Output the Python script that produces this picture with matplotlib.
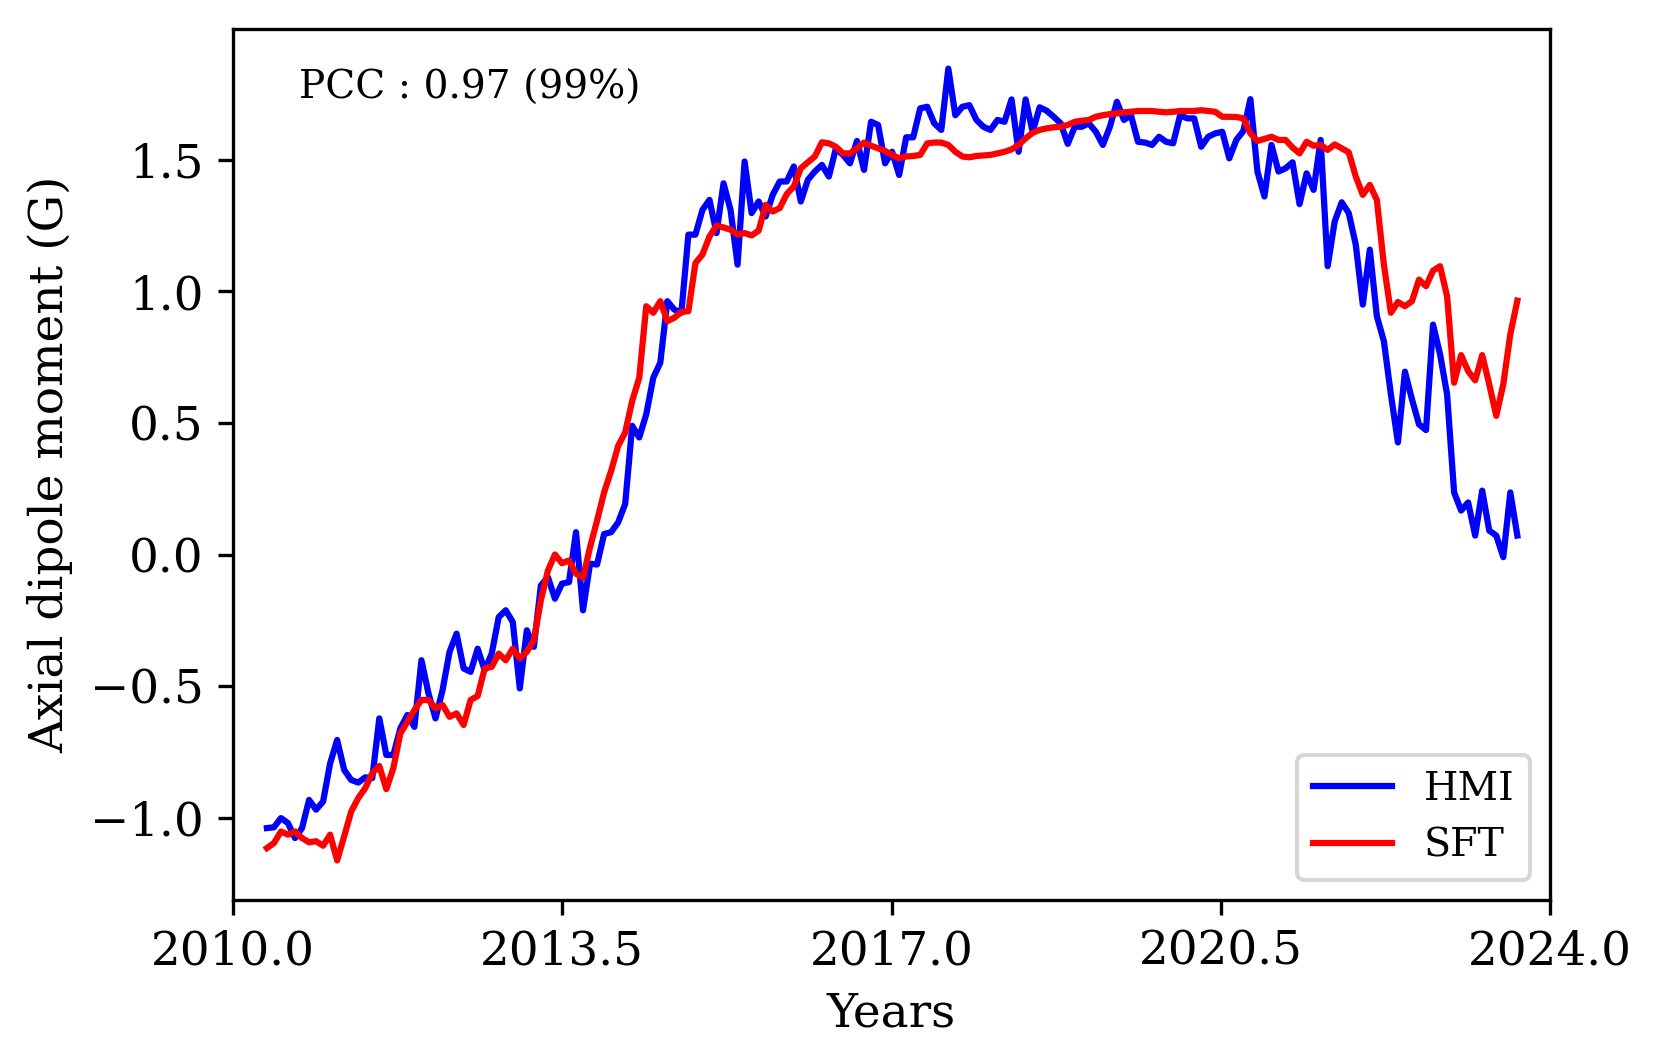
# Axial dipole moment: HMI observations vs SFT model

import numpy as np
import matplotlib
matplotlib.use("Agg")
import matplotlib.pyplot as plt

# ============================================
# DATA (one value per Carrington rotation)
# ============================================

T_START = 2010.36           # year of the first rotation
CR_DAYS = 27.2753           # Carrington rotation length

hmi = [
    -1.040, -1.037, -1.002, -1.021, -1.078, -1.040, -0.933, -0.970, -0.939, -0.794,
    -0.705, -0.819, -0.857, -0.867, -0.847, -0.850, -0.623, -0.762, -0.762, -0.661,
    -0.610, -0.655, -0.402, -0.528, -0.623, -0.516, -0.370, -0.301, -0.433, -0.446,
    -0.358, -0.440, -0.377, -0.238, -0.212, -0.257, -0.509, -0.288, -0.351, -0.118,
    -0.086, -0.168, -0.111, -0.105, 0.085, -0.212, -0.035, -0.038, 0.078, 0.085,
    0.122, 0.192, 0.489, 0.445, 0.533, 0.672, 0.729, 0.963, 0.931, 0.919,
    1.216, 1.216, 1.310, 1.348, 1.222, 1.411, 1.310, 1.102, 1.494, 1.298,
    1.342, 1.285, 1.367, 1.418, 1.418, 1.475, 1.342, 1.424, 1.456, 1.481,
    1.437, 1.544, 1.519, 1.487, 1.572, 1.462, 1.645, 1.633, 1.487, 1.531,
    1.443, 1.586, 1.586, 1.696, 1.702, 1.639, 1.614, 1.847, 1.670, 1.702,
    1.708, 1.652, 1.626, 1.614, 1.652, 1.645, 1.730, 1.531, 1.730, 1.607,
    1.700, 1.687, 1.664, 1.639, 1.561, 1.626, 1.626, 1.639, 1.607, 1.557,
    1.626, 1.721, 1.652, 1.670, 1.569, 1.566, 1.557, 1.588, 1.569, 1.563,
    1.670, 1.658, 1.658, 1.550, 1.588, 1.601, 1.607, 1.506, 1.576, 1.610,
    1.731, 1.456, 1.361, 1.557, 1.456, 1.468, 1.491, 1.332, 1.449, 1.386,
    1.576, 1.096, 1.266, 1.339, 1.298, 1.178, 0.950, 1.159, 0.906, 0.811,
    0.609, 0.426, 0.695, 0.590, 0.495, 0.473, 0.874, 0.761, 0.609, 0.236,
    0.167, 0.198, 0.072, 0.243, 0.091, 0.072, -0.010, 0.236, 0.072,
]

sft = [
    -1.116, -1.097, -1.053, -1.065, -1.053, -1.078, -1.094, -1.090, -1.107, -1.065,
    -1.163, -1.071, -0.977, -0.926, -0.888, -0.831, -0.804, -0.892, -0.812, -0.680,
    -0.636, -0.591, -0.553, -0.553, -0.585, -0.572, -0.617, -0.604, -0.648, -0.553,
    -0.538, -0.433, -0.427, -0.377, -0.402, -0.358, -0.395, -0.370, -0.326, -0.174,
    -0.061, 0.000, -0.033, -0.023, -0.073, -0.088, 0.028, 0.129, 0.236, 0.318,
    0.413, 0.464, 0.584, 0.672, 0.944, 0.919, 0.963, 0.887, 0.900, 0.922,
    0.925, 1.108, 1.140, 1.209, 1.251, 1.243, 1.235, 1.216, 1.222, 1.213,
    1.231, 1.329, 1.304, 1.317, 1.370, 1.399, 1.468, 1.491, 1.513, 1.567,
    1.563, 1.550, 1.525, 1.525, 1.544, 1.566, 1.554, 1.544, 1.534, 1.519,
    1.506, 1.513, 1.515, 1.519, 1.563, 1.566, 1.566, 1.557, 1.531, 1.513,
    1.510, 1.515, 1.517, 1.519, 1.525, 1.531, 1.540, 1.557, 1.582, 1.603,
    1.614, 1.620, 1.624, 1.626, 1.633, 1.645, 1.649, 1.652, 1.664, 1.670,
    1.674, 1.677, 1.681, 1.683, 1.686, 1.686, 1.686, 1.683, 1.681, 1.683,
    1.686, 1.686, 1.686, 1.689, 1.686, 1.683, 1.664, 1.664, 1.663, 1.658,
    1.601, 1.572, 1.580, 1.588, 1.576, 1.576, 1.547, 1.525, 1.569, 1.554,
    1.557, 1.538, 1.559, 1.544, 1.529, 1.437, 1.367, 1.405, 1.348, 1.102,
    0.919, 0.960, 0.944, 0.963, 1.045, 1.020, 1.079, 1.096, 0.982, 0.653,
    0.758, 0.697, 0.662, 0.758, 0.647, 0.527, 0.647, 0.837, 0.965,
]

xticks = [2010.0, 2013.5, 2017.0, 2020.5, 2024.0]
pcc_text = "PCC : 0.97 (99%)"

# ============================================
# PLOT
# ============================================

plt.rcParams["font.family"] = "DejaVu Serif"
plt.rcParams["axes.unicode_minus"] = True

years = T_START + np.arange(len(hmi)) * CR_DAYS / 365.25

fig = plt.figure(figsize=(1661 / 300, 1064 / 300), dpi=300)
ax = fig.add_axes([0.1403, 0.1541, 0.7929, 0.8186])

ax.plot(years, hmi, color="b", lw=1.5, label="HMI")
ax.plot(years, sft, color="r", lw=1.5, label="SFT")

ax.set_xlim(2010, 2024)
ax.set_xticks(xticks)
ax.set_xticklabels([f"{x:.1f}" for x in xticks])
ax.set_yticks([-1.0, -0.5, 0.0, 0.5, 1.0, 1.5])
ax.tick_params(labelsize=11.25)

ax.set_xlabel("Years", fontsize=11.25)
ax.set_ylabel("Axial dipole moment (G)", fontsize=11.25)

ax.text(0.05, 0.932, pcc_text, transform=ax.transAxes, fontsize=9.4, va="center")
ax.legend(loc="lower right", fontsize=9.5)

fig.savefig("out.png", dpi=300)
